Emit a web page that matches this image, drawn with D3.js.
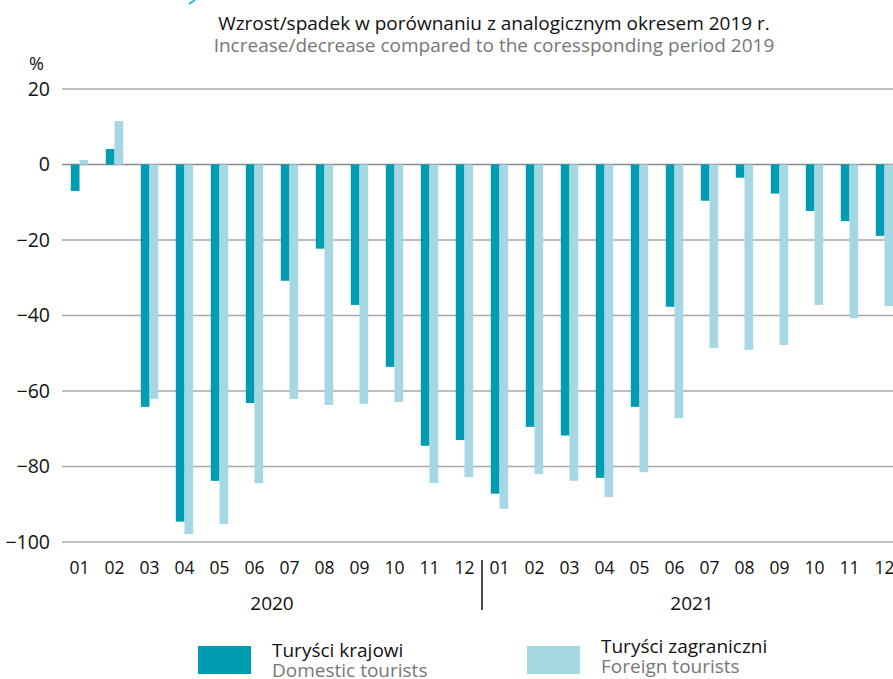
<!DOCTYPE html>
<html>
<head>
<meta charset="UTF-8">
<script src="https://d3js.org/d3.v7.min.js"></script>
<style>
  body { margin: 0; background: #fff; }
  text { font-family: "Open Sans", sans-serif; }
</style>
</head>
<body>
<svg id="chart" width="893" height="679"></svg>
<script>
// miesiące 2020-01 .. 2021-12
var months = ["01","02","03","04","05","06","07","08","09","10","11","12",
              "01","02","03","04","05","06","07","08","09","10","11","12"];
var years = ["2020", "2021"];
var domestic = [-7, 4.1, -64.2, -94.6, -83.8, -63.2, -30.8, -22.3, -37.2, -53.6, -74.5, -73.0,
                -87.2, -69.5, -71.8, -83.0, -64.2, -37.7, -9.6, -3.5, -7.7, -12.3, -15.0, -18.9];
var foreign = [1.2, 11.5, -62.1, -97.9, -95.2, -84.4, -62.1, -63.7, -63.4, -62.9, -84.4, -82.8,
               -91.2, -82.0, -83.8, -88.1, -81.5, -67.2, -48.6, -49.1, -47.8, -37.2, -40.7, -37.5];
var yTicks = [20, 0, -20, -40, -60, -80, -100];

var darkCol = "#009cb1", lightCol = "#a5d8e3";

var svg = d3.select("#chart");
var idx = d3.range(months.length);

var x = d3.scaleBand().domain(idx).range([62, 902]);
var y = d3.scaleLinear().domain([-100, 20]).range([542, 89]);
var bw = 8.7;

// kawałek strzałki przyciętej u góry
svg.append("path").attr("d", "M189,4 L195,0").attr("stroke", "#2bb5d3").attr("stroke-width", 2);

// tytuł
svg.append("text").attr("x", 494).attr("y", 30).attr("text-anchor", "middle")
  .attr("font-size", "19px").attr("fill", "#111")
  .text("Wzrost/spadek w porównaniu z analogicznym okresem 2019 r.");
svg.append("text").attr("x", 494).attr("y", 52).attr("text-anchor", "middle")
  .attr("font-size", "19px").attr("fill", "#777")
  .text("Increase/decrease compared to the coressponding period 2019");

svg.append("text").attr("x", 29).attr("y", 70).attr("font-size", "18px").attr("fill", "#111").text("%");

// siatka
svg.append("g").selectAll("line").data(yTicks).enter().append("line")
  .attr("x1", 62).attr("x2", 893)
  .attr("y1", function(d) { return y(d); }).attr("y2", function(d) { return y(d); })
  .attr("stroke", function(d) { return d === 0 ? "#8a8a8a" : "#a8a8a8"; })
  .attr("stroke-width", 1.5);

var yAxis = svg.append("g").attr("transform", "translate(50,0)")
  .call(d3.axisLeft(y).tickValues(yTicks).tickSize(0).tickPadding(0));
yAxis.select(".domain").remove();
yAxis.selectAll("text").attr("font-size", "19.5px").attr("fill", "#111")
  .attr("font-family", "Open Sans, sans-serif");

// słupki
svg.append("g").selectAll("rect").data(idx).enter().append("rect")
  .attr("x", function(i) { return x(i) + x.bandwidth() / 2 - bw; })
  .attr("width", bw)
  .attr("y", function(i) { return y(Math.max(0, domestic[i])); })
  .attr("height", function(i) { return Math.abs(y(domestic[i]) - y(0)); })
  .attr("fill", darkCol);

svg.append("g").selectAll("rect").data(idx).enter().append("rect")
  .attr("x", function(i) { return x(i) + x.bandwidth() / 2; })
  .attr("width", bw)
  .attr("y", function(i) { return y(Math.max(0, foreign[i])); })
  .attr("height", function(i) { return Math.abs(y(foreign[i]) - y(0)); })
  .attr("fill", lightCol);

// oś X
var xAxis = svg.append("g").attr("transform", "translate(0,562)")
  .call(d3.axisBottom(x).tickFormat(function(i) { return months[i]; }).tickSize(0).tickPadding(0));
xAxis.select(".domain").remove();
xAxis.selectAll("text").attr("font-size", "17.5px").attr("fill", "#111")
  .attr("font-family", "Open Sans, sans-serif");

svg.selectAll(".year").data(years).enter().append("text")
  .attr("class", "year")
  .attr("x", function(d, k) { return (x(k * 12) + x(k * 12 + 11) + x.bandwidth()) / 2; })
  .attr("y", 610).attr("text-anchor", "middle")
  .attr("font-size", "19px").attr("fill", "#111")
  .text(function(d) { return d; });

svg.append("line").attr("x1", x(12)).attr("x2", x(12)).attr("y1", 560).attr("y2", 610)
  .attr("stroke", "#111").attr("stroke-width", 1.5);

// legenda
var legend = [
  { pl: "Turyści krajowi", en: "Domestic tourists", col: darkCol, x: 198, ty: 657 },
  { pl: "Turyści zagraniczni", en: "Foreign tourists", col: lightCol, x: 527, ty: 653 }
];
var lg = svg.selectAll(".lg").data(legend).enter().append("g").attr("class", "lg")
  .attr("transform", function(d) { return "translate(" + d.x + ",0)"; });
lg.append("rect").attr("x", 0).attr("y", 646).attr("width", 53).attr("height", 28)
  .attr("fill", function(d) { return d.col; });
lg.append("text").attr("x", 74).attr("y", function(d) { return d.ty; })
  .attr("font-size", "19px").attr("fill", "#111")
  .text(function(d) { return d.pl; });
lg.append("text").attr("x", 74).attr("y", function(d) { return d.ty + 20; })
  .attr("font-size", "19px").attr("fill", "#777")
  .text(function(d) { return d.en; });
</script>
</body>
</html>
